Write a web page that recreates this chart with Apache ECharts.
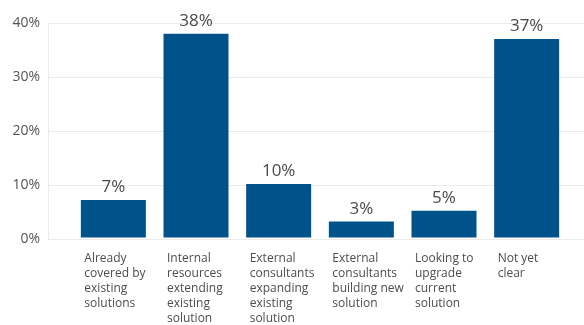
<!DOCTYPE html>
<html><head><meta charset="utf-8">
<script src="https://cdn.jsdelivr.net/npm/echarts@6/dist/echarts.min.js"></script>
<style>html,body{margin:0;padding:0;background:#fff}#c{width:584px;height:325px}</style>
</head><body><div id="c"></div>
<script>
const categories = [
  ["Already","covered by","existing","solutions"],
  ["Internal","resources","extending","existing","solution"],
  ["External","consultants","expanding","existing","solution"],
  ["External","consultants","building new","solution"],
  ["Looking to","upgrade","current","solution"],
  ["Not yet","clear"]
];
const values = [7, 38, 10, 3, 5, 37];
const yTicks = [0, 10, 20, 30, 40];

const font = "'Open Sans', sans-serif";
const chart = echarts.init(document.getElementById('c'));
chart.setOption({
  animation: false,
  grid: [
    {left: 48, right: 0, top: 23, height: 216},
    {left: 72, width: 496, top: 23, height: 216}
  ],
  xAxis: [
    {gridIndex: 0, type: 'category', data: categories.map((c,i)=>i), show: false},
    {gridIndex: 1, type: 'category', data: categories.map(c=>c.join('\n')),
      axisLine: {show: false}, axisTick: {show: false},
      axisLabel: {
        interval: 0, margin: 14, align: 'center', verticalAlign: 'top',
        formatter: v => v.split('\n').map(s => '{a|' + s + '}').join('\n'),
        rich: {a: {width: 58, align: 'left', fontFamily: font, fontSize: 12, lineHeight: 15, color: '#4d4d4d'}}
      }}
  ],
  yAxis: [
    {gridIndex: 0, type: 'value', min: yTicks[0], max: yTicks[yTicks.length-1], interval: 10,
      axisLine: {show: true, lineStyle: {color: '#ebebeb'}}, axisTick: {show: false},
      splitLine: {lineStyle: {color: '#ebebeb'}},
      axisLabel: {margin: 8, padding: [4, 0, 0, 0], formatter: '{value}%', fontFamily: font, fontSize: 14, color: '#555'}},
    {gridIndex: 1, type: 'value', min: yTicks[0], max: yTicks[yTicks.length-1], interval: 10, show: false}
  ],
  series: [{
    type: 'bar', xAxisIndex: 1, yAxisIndex: 1, data: values, barWidth: 65,
    itemStyle: {color: '#00538a'},
    label: {show: true, position: 'top', distance: 4, formatter: '{c}%', fontFamily: font, fontSize: 17, color: '#4a4a4a'}
  }]
});
</script></body></html>
